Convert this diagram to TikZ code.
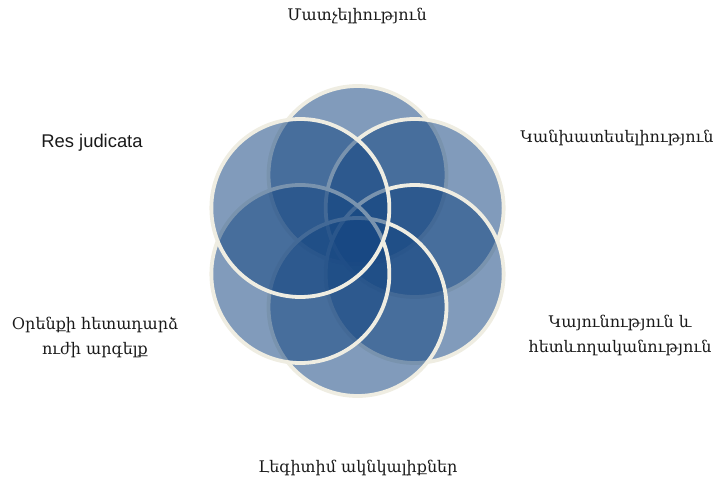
\documentclass[tikz,border=0pt]{standalone}
\usepackage{fontspec}
\usetikzlibrary{calc}
\setmainfont{Liberation Sans}
\newfontfamily\armfont{DejaVu Serif}
\definecolor{petalblue}{HTML}{164782}
\definecolor{petalrim}{HTML}{EFEDE2}
\definecolor{labeltext}{HTML}{1A1A1A}

\begin{document}
\begin{tikzpicture}[x=1pt,y=-1pt]
  % Define petal and label styles
  \tikzstyle{petal} = [circle, minimum size=178pt, inner sep=0pt,
  draw=petalrim, line width=3.8pt, fill=petalblue, fill opacity=0.54,
  draw opacity=1]
  \tikzstyle{armlabel} = [text=labeltext, align=center,
  font=\armfont\fontsize{16}{25}\selectfont]
  \tikzstyle{latlabel} = [text=labeltext,
  font=\fontsize{18.4}{22}\selectfont]

  \useasboundingbox (0,0) rectangle (718,484);

  % six petals round the centre (y runs down here)
  \coordinate (mid) at (357.5,241);
  \node [petal] (ptop)   at ($(mid)+(-90:66)$)  {};
  \node [petal] (pnr)    at ($(mid)+(-30:66)$)  {};
  \node [petal] (psr)    at ($(mid)+(30:66)$)   {};
  \node [petal] (pbot)   at ($(mid)+(90:66)$)   {};
  \node [petal] (psl)    at ($(mid)+(150:66)$)  {};
  \node [petal] (pnl)    at ($(mid)+(-150:66)$) {};

  % labels
  \node [armlabel] (access)  at (357,16)  {Մատչելիություն};
  \node [armlabel] (predict) at (617,138) {Կանխատեսելիություն};
  \node [latlabel] (resjud)  at (92,143)  {Res judicata};
  \node [armlabel] (retro)   at (95,337)  {Օրենքի հետադարձ\\ուժի արգելք};
  \node [armlabel] (stable)  at (620,335) {Կայունություն և\\հետևողականություն};
  \node [armlabel] (legit)   at (358,468) {Լեգիտիմ ակնկալիքներ};
\end{tikzpicture}
\end{document}
